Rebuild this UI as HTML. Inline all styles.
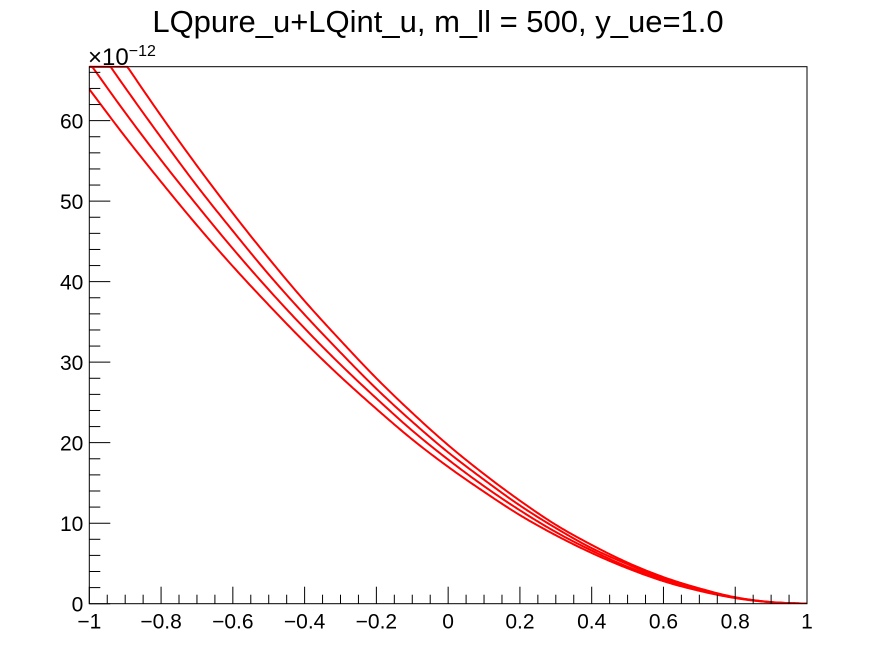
<!DOCTYPE html>
<html><head><meta charset="utf-8"><style>
body{margin:0;background:#fff;}
svg{display:block;font-family:"Liberation Sans",Arial,sans-serif;}
</style></head><body>
<svg id="chart" width="896" height="672" viewBox="0 0 896 672">
<rect width="896" height="672" fill="#fff"/>
<text x="438" y="32" font-size="31" text-anchor="middle">LQpure_u+LQint_u, m_ll = 500, y_ue=1.0</text>
<g id="plot"></g>
</svg>
<script>
const xs = [-1,-0.9,-0.8,-0.7,-0.6,-0.5,-0.4,-0.3,-0.2,-0.1,0,0.1,0.2,0.3,0.4,0.5,0.6,0.7,0.8,0.9,1];
const series0 = [63.9,58.0,52.4,47.0,41.9,37.1,32.5,28.2,24.2,20.4,17.0,13.9,11.0,8.5,6.3,4.4,2.8,1.6,0.7,0.18,0];
const series1 = [67.2,61.0,55.1,49.5,44.1,39.0,34.2,29.7,25.5,21.5,17.9,14.6,11.6,8.9,6.6,4.6,3.0,1.7,0.73,0.19,0];
const series2 = [70.5,64.1,57.9,51.9,46.3,40.9,35.9,31.2,26.7,22.6,18.8,15.4,12.2,9.4,6.9,4.9,3.1,1.8,0.77,0.19,0];
const series3 = [73.8,67.1,60.6,54.4,48.5,42.9,37.6,32.7,28.0,23.7,19.7,16.1,12.8,9.8,7.3,5.1,3.3,1.9,0.8,0.2,0];
const yTicks = [0,10,20,30,40,50,60];
const xTicks = [-1,-0.8,-0.6,-0.4,-0.2,0,0.2,0.4,0.6,0.8,1];
const xTickLabels = ["\u22121","\u22120.8","\u22120.6","\u22120.4","\u22120.2","0","0.2","0.4","0.6","0.8","1"];

const L=89.3,R=807,T=66.7,B=603.7,YMAX=66.7;
const NS='http://www.w3.org/2000/svg';
const sx=x=>L+(x+1)/2*(R-L);
const sy=y=>B-y/YMAX*(B-T);
const g=document.getElementById('plot');
function mk(tag,attrs){const e=document.createElementNS(NS,tag);for(const k in attrs)e.setAttribute(k,attrs[k]);g.appendChild(e);return e;}

const defs=mk('defs',{});
const cp=document.createElementNS(NS,'clipPath');cp.setAttribute('id','clip');
const cr=document.createElementNS(NS,'rect');cr.setAttribute('x',L);cr.setAttribute('y',T-1);cr.setAttribute('width',R-L);cr.setAttribute('height',B-T+1);
cp.appendChild(cr);defs.appendChild(cp);

function interp(ys,x){
  let i=0;while(i<xs.length-2&&x>xs[i+1])i++;
  const x0=xs[i],x1=xs[i+1];const t=(x-x0)/(x1-x0);
  const p0=ys[Math.max(i-1,0)],p1=ys[i],p2=ys[i+1],p3=ys[Math.min(i+2,ys.length-1)];
  const h=x1-x0;
  const m1=(p2-p0)/(xs[Math.min(i+1,xs.length-1)]-xs[Math.max(i-1,0)])*h;
  const m2=(p3-p1)/(xs[Math.min(i+2,xs.length-1)]-xs[i])*h;
  const t2=t*t,t3=t2*t;
  return (2*t3-3*t2+1)*p1+(t3-2*t2+t)*m1+(-2*t3+3*t2)*p2+(t3-t2)*m2;
}
const allSeries=[series0,series1,series2,series3];
allSeries.forEach((ys,k)=>{
  let d='';
  for(let j=0;j<=400;j++){const x=-1+2*j/400;let y=Math.max(0,Math.min(YMAX,interp(ys,x)));d+=(j?'L':'M')+sx(x).toFixed(2)+','+sy(y).toFixed(2);}
  const p=mk('path',{d:d,fill:'none',stroke:'#ff0000','stroke-width':2,'clip-path':'url(#clip)'});
  
  
});

const fr=mk('rect',{x:L,y:T,width:R-L,height:B-T,fill:'none',stroke:'#000','stroke-width':1});



for(let v=0;v<=66;v+=2){
  const major=v%10===0;
  const ln=mk('line',{x1:L,x2:L+(major?21:11),y1:sy(v),y2:sy(v),stroke:'#000','stroke-width':1});
  
  
}
yTicks.forEach(v=>{
  const t=mk('text',{x:L-6,y:sy(v)+8,'font-size':21,'text-anchor':'end'});t.textContent=String(v);
  
  
});
for(let i=0;i<=40;i++){
  const x=-1+i*0.05;const major=i%4===0;
  const ln=mk('line',{x1:sx(x),x2:sx(x),y1:B,y2:B-(major?17:9),stroke:'#000','stroke-width':1});
  
  
}
xTicks.forEach((v,i)=>{
  const t=mk('text',{x:sx(v),y:B+25,'font-size':21,'text-anchor':'middle'});t.textContent=xTickLabels[i];
  
  
});
const ex=mk('text',{x:88,y:65,'font-size':24});
ex.innerHTML='\u00d710<tspan dy="-9" font-size="16">\u221212</tspan>';


</script>
</body></html>
